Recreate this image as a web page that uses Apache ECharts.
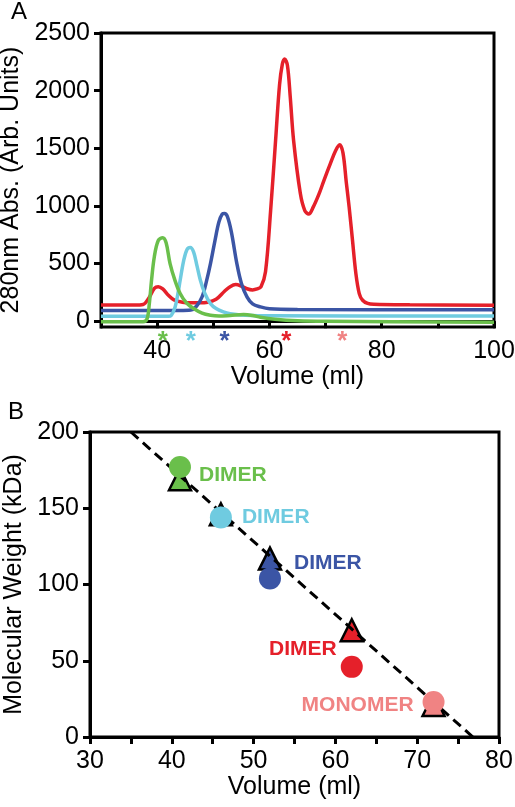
<!DOCTYPE html>
<html>
<head>
<meta charset="utf-8">
<script src="https://cdn.jsdelivr.net/npm/echarts@6/dist/echarts.min.js"></script>
<style>
html,body{margin:0;padding:0;background:#fff;}
#main{width:515px;height:807px;}
</style>
</head>
<body>
<div id="main"></div>
<script>
// ---------- Panel A data (Volume ml, 280nm Abs) ----------
var redVol   = [30,36,37.5,38.5,39.5,40.2,41,42,43,44.5,46,47.5,49,50.5,52,53,54,55,56,57,57.8,58.5,59.3,60.2,61.1,61.8,62.3,62.7,63.2,63.7,64.3,65.5,66.3,67,67.8,68.8,69.7,70.8,71.8,72.5,73.1,73.7,74.2,74.8,75.4,76,76.6,77.5,78.6,85,100];
var redAbs   = [140,140,145,200,285,300,280,225,185,165,160,160,165,190,260,300,318,305,282,272,280,300,430,950,1570,2050,2230,2275,2220,1950,1570,1110,960,930,990,1100,1220,1360,1480,1530,1460,1200,990,700,413,240,182,155,147,142,138];
var blueVol  = [30,44,46,47,48,48.8,49.5,50.3,51,51.6,52,52.5,53.2,54.2,55,56,57,58.4,60,65,100];
var blueAbs  = [93,93,97,130,211,350,500,700,860,930,935,910,780,500,330,211,150,124,108,102,100];
var cyanVol  = [30,42,42.5,43.2,43.7,44.1,44.7,45.3,45.9,46.5,47.1,47.7,48.5,49.5,50.5,51.8,53,54.8,57,60,100];
var cyanAbs  = [43,43,50,124,240,355,520,620,640,600,480,355,240,153,110,81,65,55,50,47,45];
var greenVol = [30,37.5,38.2,38.6,39,39.5,40.2,41,41.6,42.3,43.2,44.1,45.2,46.5,48,49.5,51,53,55.4,57,58.4,61,65,70,100];
var greenAbs = [-5,-5,20,150,355,560,700,725,680,500,350,240,160,110,70,52,45,50,58,50,35,18,5,0,-8];
var starVol  = [41,46,52,63,73];
var starLevel = -130;

// ---------- Panel B data (Volume ml, Molecular Weight kDa) ----------
var ptVol      = [41,46,52,62,72];
var triMW      = [169,146,117,70,21];
var circMW     = [177,144,104,46,23];
var ptLabels   = ['DIMER','DIMER','DIMER','DIMER','MONOMER'];
var fitVol     = [35,76.8];
var fitMW      = [200,0];

// tick labels
var aXLabels = [40,60,80,100];
var aXTicks  = [40,50,60,70,80,90,100];
var aYLabels = [0,500,1000,1500,2000,2500];
var bXLabels = [30,40,50,60,70,80];
var bXTicks  = [30,35,40,45,50,55,60,65,70,75,80];

// colours
var cRed='#e5202a', cBlue='#3b55a5', cCyan='#6fcbe0', cGreen='#6abf4b', cPink='#f08383';
var ptColors  = [cGreen,cCyan,cBlue,cRed,cPink];
var starColors = [cGreen,cCyan,cBlue,cRed,cPink];

function zip(a,b){return a.map(function(v,i){return [v,b[i]];});}
function plain(v){return String(v);}

var FONT='Liberation Sans, Arial, sans-serif';
var axisLineStyle={lineStyle:{color:'#000',width:3}};
var tickStyle={lineStyle:{color:'#000',width:3},length:7,inside:false};

var labelOpts=[
  {position:'right',offset:[3,8]},
  {position:'right',offset:[5,0]},
  {position:'right',offset:[8,-15]},
  {position:'left',offset:[1,-18]},
  {position:'left',offset:[-4,3]}
];

var chart=echarts.init(document.getElementById('main'),null,{renderer:'canvas'});
var option={
  backgroundColor:'#fff',
  animation:false,
  textStyle:{fontFamily:FONT},
  title:[
    {text:'A',left:11,top:0,padding:0,textStyle:{fontFamily:FONT,fontSize:24,fontWeight:'normal',color:'#000'}},
    {text:'B',left:8,top:400,padding:0,textStyle:{fontFamily:FONT,fontSize:24,fontWeight:'normal',color:'#000'}}
  ],
  grid:[
    {left:101,top:33,width:393,height:294,show:true,borderColor:'#000',borderWidth:3,backgroundColor:'transparent',
     containLabel:false,outerBoundsMode:'none'},
    {left:90,top:432,width:409,height:305,show:true,borderColor:'#000',borderWidth:3,backgroundColor:'transparent',
     containLabel:false,outerBoundsMode:'none'}
  ],
  xAxis:[
    {type:'value',gridIndex:0,min:30,max:100,
     axisLine:axisLineStyle,
     axisTick:Object.assign({customValues:aXTicks},tickStyle),
     axisLabel:{customValues:aXLabels,formatter:plain,fontSize:25,color:'#000',margin:12,fontFamily:FONT},
     splitLine:{show:false},
     name:'Volume (ml)',nameLocation:'middle',nameGap:38,
     nameTextStyle:{fontSize:25,color:'#000',fontFamily:FONT}},
    {type:'value',gridIndex:1,min:30,max:80,
     axisLine:axisLineStyle,
     axisTick:Object.assign({customValues:bXTicks},tickStyle),
     axisLabel:{customValues:bXLabels,formatter:plain,fontSize:25,color:'#000',margin:12,fontFamily:FONT},
     splitLine:{show:false},
     name:'Volume (ml)',nameLocation:'middle',nameGap:37,
     nameTextStyle:{fontSize:25,color:'#000',fontFamily:FONT}}
  ],
  yAxis:[
    {type:'value',gridIndex:0,min:-50,max:2500,
     axisLine:axisLineStyle,
     axisTick:Object.assign({customValues:aYLabels},tickStyle),
     axisLabel:{customValues:aYLabels,formatter:plain,fontSize:25,color:'#000',margin:11,fontFamily:FONT},
     splitLine:{show:false},
     name:'280nm Abs. (Arb. Units)',nameLocation:'middle',nameGap:70,nameRotate:90,
     nameTextStyle:{fontSize:25,color:'#000',fontFamily:FONT}},
    {type:'value',gridIndex:1,min:0,max:200,interval:50,
     axisLine:axisLineStyle,
     axisTick:tickStyle,
     axisLabel:{formatter:plain,fontSize:25,color:'#000',margin:11,fontFamily:FONT},
     splitLine:{show:false},
     name:'Molecular Weight (kDa)',nameLocation:'middle',nameGap:62,nameRotate:90,
     nameTextStyle:{fontSize:25,color:'#000',fontFamily:FONT}}
  ],
  series:[
    {type:'line',xAxisIndex:0,yAxisIndex:0,data:zip(redVol,redAbs),smooth:0.35,showSymbol:false,
     lineStyle:{color:cRed,width:3.5},z:2},
    {type:'line',xAxisIndex:0,yAxisIndex:0,data:zip(blueVol,blueAbs),smooth:0.35,showSymbol:false,
     lineStyle:{color:cBlue,width:3.5},z:3},
    {type:'line',xAxisIndex:0,yAxisIndex:0,data:zip(cyanVol,cyanAbs),smooth:0.35,showSymbol:false,
     lineStyle:{color:cCyan,width:3.5},z:4},
    {type:'line',xAxisIndex:0,yAxisIndex:0,data:zip(greenVol,greenAbs),smooth:0.35,showSymbol:false,
     lineStyle:{color:cGreen,width:3.5},z:5},
    {type:'scatter',xAxisIndex:0,yAxisIndex:0,clip:false,symbolSize:1,
     itemStyle:{color:'rgba(255,255,255,0)',opacity:1},
     data:starVol.map(function(v,i){return {value:[v,starLevel],
       label:{show:true,formatter:'*',position:'inside',offset:[0,6],color:starColors[i],fontSize:26,fontWeight:'bold',fontFamily:FONT}};})},
    // panel B
    {type:'scatter',xAxisIndex:1,yAxisIndex:1,symbol:'triangle',symbolSize:22,z:2,
     data:ptVol.map(function(v,i){return {value:[v,triMW[i]],itemStyle:{color:ptColors[i],opacity:1,borderColor:'#000',borderWidth:2.5}};})},
    {type:'line',xAxisIndex:1,yAxisIndex:1,data:zip(fitVol,fitMW),showSymbol:false,z:3,
     lineStyle:{color:'#000',width:3,type:[10,6]}},
    {type:'scatter',xAxisIndex:1,yAxisIndex:1,symbol:'circle',symbolSize:22,z:4,
     data:ptVol.map(function(v,i){return {value:[v,circMW[i]],itemStyle:{color:ptColors[i],opacity:1},
       label:{show:true,formatter:ptLabels[i],position:labelOpts[i].position,offset:labelOpts[i].offset,
              color:ptColors[i],fontSize:21,fontWeight:'bold',fontFamily:FONT}};})}
  ]
};
chart.setOption(option);
</script>
</body>
</html>
